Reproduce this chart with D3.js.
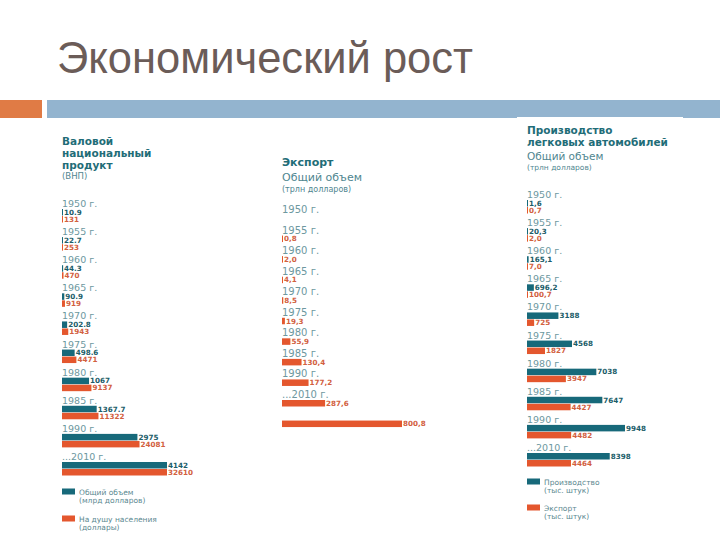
<!doctype html>
<meta charset="utf-8">
<head>
<script src="https://d3js.org/d3.v7.min.js"></script>
<style>
  body { margin: 0; background: #fff; }
  svg { display: block; }
</style>
</head>
<body>
<svg width="720" height="540"></svg>
<script>
    // --- data ---
    const years = ["1950 г.", "1955 г.", "1960 г.", "1965 г.", "1970 г.",
                   "1975 г.", "1980 г.", "1985 г.", "1990 г.", "...2010 г."];

    // Валовой национальный продукт
    const gnpTotal = [10.9, 22.7, 44.3, 90.9, 202.8, 498.6, 1067, 1367.7, 2975, 4142];
    const gnpTotalLabels = ["10.9", "22.7", "44.3", "90.9", "202.8", "498.6", "1067", "1367.7", "2975", "4142"];
    const gnpPerCapita = [131, 253, 470, 919, 1943, 4471, 9137, 11322, 24081, 32610];

    // Экспорт (bars sit one row lower than the years, as in the original)
    const exportValues = [0.8, 2.0, 4.1, 8.5, 19.3, 55.9, 130.4, 177.2, 287.6, 800.8];
    const exportLabels = ["0,8", "2,0", "4,1", "8,5", "19,3", "55,9", "130,4", "177,2", "287,6", "800,8"];

    // Производство легковых автомобилей
    const carProd = [1.6, 20.3, 165.1, 696.2, 3188, 4568, 7038, 7647, 9948, 8398];
    const carProdLabels = ["1,6", "20,3", "165,1", "696,2", "3188", "4568", "7038", "7647", "9948", "8398"];
    const carExport = [0.7, 2.0, 7.0, 100.7, 725, 1827, 3947, 4427, 4482, 4464];
    const carExportLabels = ["0,7", "2,0", "7,0", "100,7", "725", "1827", "3947", "4427", "4482", "4464"];

    const TEAL = "#17697a";
    const ORANGE = "#e4572e";
    const TEAL_TEXT = "#1b5d69";
    const ORANGE_TEXT = "#d2603e";
    const YEAR_COL = "#6d98a0";
    const HEAD_COL = "#1f6d78";
    const FONT = "DejaVu Sans";

    let svg = d3.select("svg");

    // slide title and header bar
    svg.append("text")
        .attr("x", 57).attr("y", 73)
        .attr("font-family", "Liberation Sans")
        .attr("font-size", 45)
        .attr("textLength", 416)
        .attr("lengthAdjust", "spacingAndGlyphs")
        .attr("fill", "#6b5c58")
        .text("Экономический рост");

    svg.append("rect").attr("x", 0).attr("y", 100).attr("width", 42).attr("height", 18).attr("fill", "#e07b45");
    svg.append("rect").attr("x", 47).attr("y", 100).attr("width", 673).attr("height", 18).attr("fill", "#93b4cf");
    svg.append("rect").attr("x", 517).attr("y", 117).attr("width", 166).attr("height", 6).attr("fill", "#fff");

    function heading(g, lines) {
        lines.forEach(l => {
            g.append("text")
                .attr("x", 0).attr("y", l.y)
                .attr("font-family", FONT)
                .attr("font-size", l.size)
                .attr("font-weight", l.bold ? "bold" : "normal")
                .attr("fill", l.bold ? HEAD_COL : "#4f8690")
                .text(l.t);
        });
    }

    function legend(g, items) {
        items.forEach(it => {
            g.append("rect").attr("x", 0).attr("y", it.y).attr("width", 13).attr("height", 6).attr("fill", it.color);
            it.lines.forEach((t, j) => {
                g.append("text")
                    .attr("x", 17).attr("y", it.y + 6 + j * 8)
                    .attr("font-family", FONT).attr("font-size", 7.5)
                    .attr("fill", "#5b8890")
                    .text(t);
            });
        });
    }

    function yearLabels(g, y, size) {
        g.selectAll(".year")
            .data(years)
            .enter().append("text")
            .attr("class", "year")
            .attr("x", 0)
            .attr("y", (d, i) => y(i))
            .attr("font-family", FONT)
            .attr("font-size", size)
            .attr("fill", YEAR_COL)
            .text(d => d);
    }

    function barSeries(g, values, labels, x, yTop, color, textColor, cls) {
        g.selectAll("rect." + cls)
            .data(values)
            .enter().append("rect")
            .attr("class", cls)
            .attr("x", 0)
            .attr("y", (d, i) => yTop(i))
            .attr("width", d => Math.max(1, x(d)))
            .attr("height", 6.5)
            .attr("fill", color);
        g.selectAll("text." + cls)
            .data(values)
            .enter().append("text")
            .attr("class", cls)
            .attr("x", d => Math.max(1, x(d)) + 1)
            .attr("y", (d, i) => yTop(i) + 5.8)
            .attr("font-family", FONT)
            .attr("font-size", 7.2)
            .attr("font-weight", "bold")
            .attr("fill", textColor)
            .text((d, i) => labels[i]);
    }

    // --- left panel: ВНП ---
    let left = svg.append("g").attr("transform", "translate(62,0)");
    heading(left, [
        { t: "Валовой", y: 145, size: 10.5, bold: true },
        { t: "национальный", y: 157, size: 10.5, bold: true },
        { t: "продукт", y: 169, size: 10.5, bold: true },
        { t: "(ВНП)", y: 178.5, size: 8.5, bold: false }
    ]);
    let yLeft = d3.scaleLinear().domain([0, 9]).range([207, 460]);
    yearLabels(left, yLeft, 9.5);
    let xGnp = d3.scaleLinear().domain([0, 4142]).range([0, 105]);
    let xGnpPc = d3.scaleLinear().domain([0, 32610]).range([0, 105]);
    barSeries(left, gnpTotal, gnpTotalLabels, xGnp, i => yLeft(i) + 2, TEAL, TEAL_TEXT, "gnp");
    barSeries(left, gnpPerCapita, gnpPerCapita.map(String), xGnpPc, i => yLeft(i) + 9, ORANGE, ORANGE_TEXT, "gnppc");
    legend(left, [
        { y: 488.5, color: TEAL, lines: ["Общий объем", "(млрд долларов)"] },
        { y: 515.5, color: ORANGE, lines: ["На душу населения", "(доллары)"] }
    ]);

    // --- middle panel: Экспорт ---
    let mid = svg.append("g").attr("transform", "translate(282,0)");
    heading(mid, [
        { t: "Экспорт", y: 166, size: 11, bold: true },
        { t: "Общий объем", y: 181, size: 11, bold: false },
        { t: "(трлн долларов)", y: 191.5, size: 8, bold: false }
    ]);
    let yMid = d3.scaleLinear().domain([0, 9]).range([213, 398]);
    yearLabels(mid, yMid, 10);
    let xExp = d3.scaleLinear().domain([0, 800.8]).range([0, 120]);
    barSeries(mid, exportValues, exportLabels, xExp, i => yMid(i + 1) + 2, ORANGE, ORANGE_TEXT, "exp");

    // --- right panel: Производство легковых автомобилей ---
    let right = svg.append("g").attr("transform", "translate(527,0)");
    heading(right, [
        { t: "Производство", y: 134, size: 10.5, bold: true },
        { t: "легковых автомобилей", y: 145.5, size: 10.5, bold: true },
        { t: "Общий объем", y: 160, size: 10.5, bold: false },
        { t: "(трлн долларов)", y: 170, size: 7.5, bold: false }
    ]);
    let yRight = d3.scaleLinear().domain([0, 9]).range([198, 451]);
    yearLabels(right, yRight, 9.5);
    let xCar = d3.scaleLinear().domain([0, 9948]).range([0, 98]);
    barSeries(right, carProd, carProdLabels, xCar, i => yRight(i) + 2, TEAL, TEAL_TEXT, "prod");
    barSeries(right, carExport, carExportLabels, xCar, i => yRight(i) + 9, ORANGE, ORANGE_TEXT, "cexp");
    legend(right, [
        { y: 478.5, color: TEAL, lines: ["Производство", "(тыс. штук)"] },
        { y: 504.5, color: ORANGE, lines: ["Экспорт", "(тыс. штук)"] }
    ]);
</script>
</body>
